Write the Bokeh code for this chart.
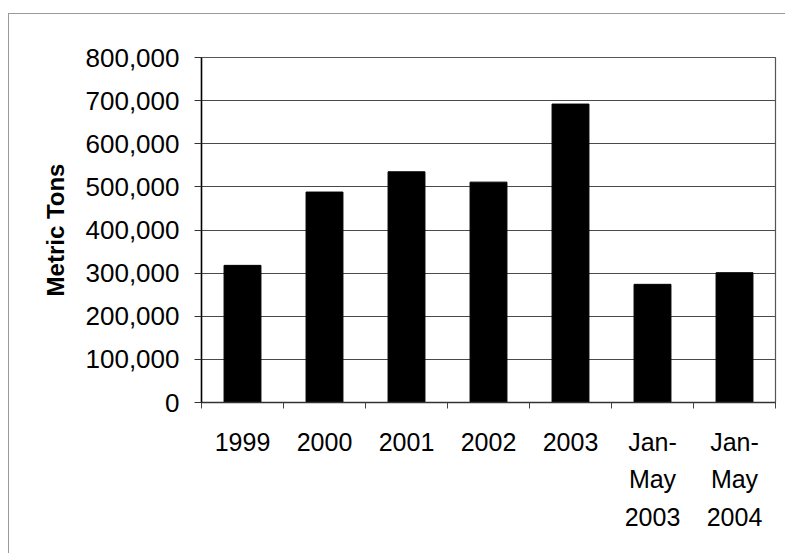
from bokeh.plotting import figure
from bokeh.models import Range1d, FixedTicker, NumeralTickFormatter
from bokeh.embed import file_html
from bokeh.resources import INLINE

categories = ["1999", "2000", "2001", "2002", "2003", "Jan-\nMay\n2003", "Jan-\nMay\n2004"]
values = [318000, 488000, 535000, 511000, 692000, 274000, 301000]
y_ticks = [0, 100000, 200000, 300000, 400000, 500000, 600000, 700000, 800000]

n = len(categories)
centers = [i + 0.5 for i in range(n)]
FONT = "Liberation Sans"

p = figure(x_range=Range1d(0, n), y_range=Range1d(0, 800000),
           width=777, height=540, output_backend="svg", toolbar_location=None,
           min_border_left=192, min_border_top=43, min_border_right=11, min_border_bottom=152)
p.styles = {"margin-left": "8px", "margin-top": "13px",
            "border-left": "1px solid #9a9a9a", "border-top": "1px solid #9a9a9a"}

p.vbar(x=centers, top=values, width=0.45, color="black")

# y axis
ya = p.yaxis[0]
ya.ticker = FixedTicker(ticks=y_ticks)
ya.formatter = NumeralTickFormatter(format="0,0")
ya.major_label_text_font = FONT
ya.major_label_text_font_size = "26px"
ya.major_label_text_color = "black"
ya.major_label_standoff = 15
ya.major_tick_out = 7
ya.major_tick_in = 0
ya.minor_tick_out = 0
ya.minor_tick_in = 0
ya.axis_line_color = "black"
ya.axis_line_width = 1.5
ya.major_tick_line_color = "#333"
ya.axis_label = "Metric Tons"
ya.axis_label_text_font = FONT
ya.axis_label_text_font_style = "bold"
ya.axis_label_text_font_size = "24px"
ya.axis_label_text_color = "black"
ya.axis_label_standoff = 14

# x axis: ticks at category boundaries, labels at centres
xa = p.xaxis[0]
xa.ticker = FixedTicker(ticks=centers, minor_ticks=list(range(n + 1)))
xa.major_label_overrides = {c: lab for c, lab in zip(centers, categories)}
xa.major_tick_out = 0
xa.major_tick_in = 0
xa.minor_tick_out = 6
xa.minor_tick_in = 0
xa.minor_tick_line_color = "#444"
xa.axis_line_color = "#333"
xa.axis_line_width = 1.5
xa.major_label_text_font = FONT
xa.major_label_text_font_size = "25px"
xa.major_label_text_color = "black"
xa.major_label_text_line_height = 1.35
xa.major_label_standoff = 19

p.xgrid.visible = False
p.ygrid.ticker = FixedTicker(ticks=y_ticks)
p.ygrid.grid_line_color = "#4a4a4a"
p.ygrid.grid_line_width = 1.2
p.outline_line_color = "#555555"
p.outline_line_width = 1.2
p.background_fill_color = "white"
p.border_fill_color = "white"

open("out.html", "w").write(file_html(p, INLINE))
